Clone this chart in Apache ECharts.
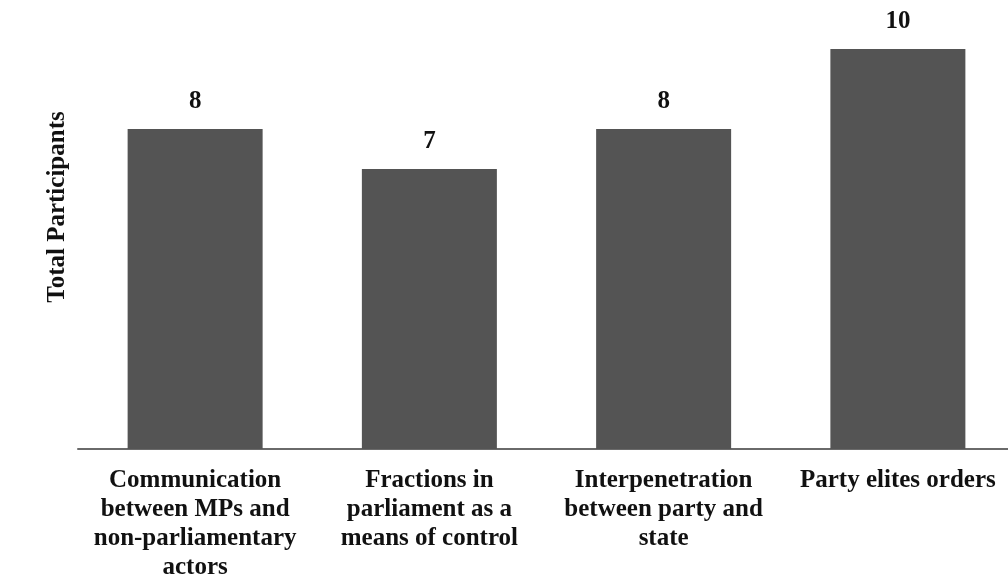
<!DOCTYPE html>
<html>
<head>
<meta charset="utf-8">
<script src="https://cdn.jsdelivr.net/npm/echarts@6/dist/echarts.min.js"></script>
<style>
html,body{margin:0;padding:0;background:#fff;}
#chart{width:1008px;height:587px;}
</style>
</head>
<body>
<div id="chart"></div>
<script>
const categories = [
  "Communication\nbetween MPs and\nnon-parliamentary\nactors",
  "Fractions in\nparliament as a\nmeans of control",
  "Interpenetration\nbetween party and\nstate",
  "Party elites orders"
];
const values = [8, 7, 8, 10];
const yAxisName = "Total Participants";

const FONT = "'Liberation Serif', 'Times New Roman', serif";
const chart = echarts.init(document.getElementById('chart'), null, {renderer: 'canvas'});
chart.setOption({
  animation: false,
  backgroundColor: '#ffffff',
  grid: {left: 78, width: 937, top: 9, height: 440, containLabel: false, outerBoundsMode: 'none'},
  xAxis: {
    type: 'category',
    data: categories,
    axisLine: {show: true, lineStyle: {color: '#6a6a6a', width: 2}},
    axisTick: {show: false},
    axisLabel: {
      interval: 0,
      margin: 17,
      fontFamily: FONT,
      fontWeight: 'bold',
      fontSize: 25,
      lineHeight: 29,
      color: '#111111',
      align: 'center'
    }
  },
  yAxis: {
    type: 'value',
    min: 0,
    max: 11,
    interval: 1,
    name: yAxisName,
    nameLocation: 'middle',
    nameGap: 8,
    nameRotate: 90,
    nameTextStyle: {fontFamily: FONT, fontWeight: 'bold', fontSize: 25, color: '#111111', padding: [0, 0, 0, 44]},
    axisLine: {show: false},
    axisTick: {show: false},
    axisLabel: {show: false},
    splitLine: {show: false}
  },
  series: [{
    type: 'bar',
    data: values,
    barWidth: 135,
    itemStyle: {color: '#545454'},
    label: {
      show: true,
      position: 'top',
      distance: 15,
      fontFamily: FONT,
      fontWeight: 'bold',
      fontSize: 25,
      color: '#111111'
    }
  }]
});
</script>
</body>
</html>
